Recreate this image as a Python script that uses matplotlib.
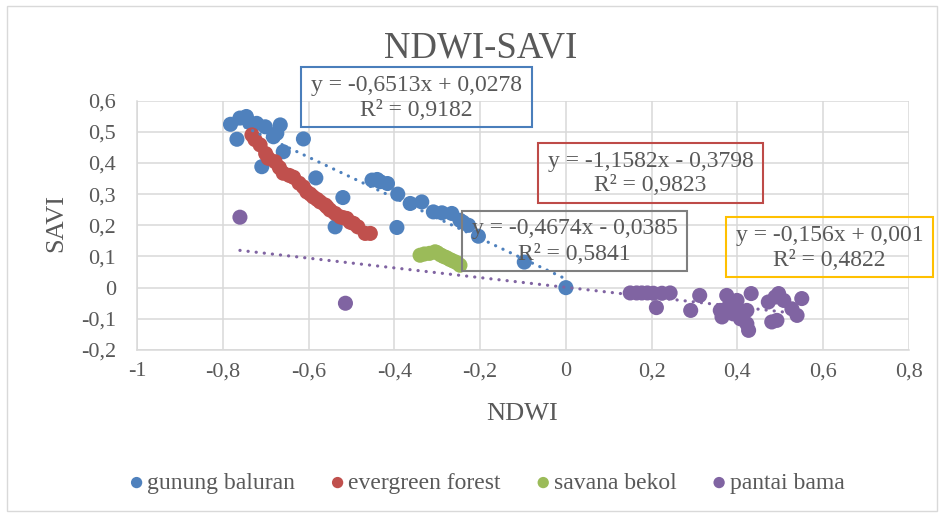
import matplotlib
matplotlib.use('Agg')
import matplotlib.pyplot as plt
import numpy as np
from matplotlib.patches import Rectangle
from matplotlib.ticker import FuncFormatter

# ── Data ────────────────────────────────────────────────────────
baluran_x = [-0.782, -0.760, -0.745, -0.738, -0.721, -0.701, -0.767, -0.682,
             -0.674, -0.666, -0.659, -0.709, -0.612, -0.583, -0.520, -0.538,
             -0.452, -0.440, -0.433, -0.416, -0.392, -0.394, -0.363, -0.336,
             -0.309, -0.289, -0.266, -0.247, -0.240, -0.227, -0.204, -0.097,
             0.0]
baluran_y = [0.524, 0.544, 0.549, 0.530, 0.527, 0.516, 0.476, 0.484,
             0.495, 0.522, 0.436, 0.388, 0.477, 0.352, 0.289, 0.195,
             0.345, 0.347, 0.340, 0.334, 0.300, 0.193, 0.270, 0.275,
             0.243, 0.240, 0.238, 0.216, 0.210, 0.200, 0.165, 0.082,
             0.0]

evergreen_x = [-0.732, -0.725, -0.713, -0.700, -0.694, -0.678, -0.668, -0.659,
               -0.645, -0.635, -0.622, -0.612, -0.604, -0.596, -0.589, -0.580,
               -0.573, -0.561, -0.557, -0.550, -0.538, -0.526, -0.518, -0.511,
               -0.503, -0.495, -0.485, -0.468, -0.456]
evergreen_y = [0.490, 0.475, 0.458, 0.430, 0.415, 0.404, 0.385, 0.367,
               0.360, 0.354, 0.335, 0.323, 0.307, 0.300, 0.291, 0.283,
               0.275, 0.265, 0.259, 0.249, 0.238, 0.227, 0.224, 0.222,
               0.210, 0.206, 0.195, 0.174, 0.174]

bekol_x = [-0.340, -0.330, -0.318, -0.305, -0.300, -0.292, -0.285, -0.278,
           -0.270, -0.262, -0.254, -0.247]
bekol_y = [0.104, 0.108, 0.110, 0.115, 0.112, 0.105, 0.100, 0.096,
           0.090, 0.085, 0.080, 0.072]

bama_x = [-0.760, -0.514, 0.150, 0.165, 0.177, 0.190, 0.204, 0.224, 0.243,
          0.211, 0.312, 0.291, 0.375, 0.399, 0.360, 0.364, 0.390, 0.407,
          0.422, 0.426, 0.432, 0.422, 0.472, 0.496, 0.508, 0.480, 0.492,
          0.539, 0.550, 0.527, 0.380, 0.395, 0.410, 0.488]
bama_y = [0.226, -0.050, -0.017, -0.017, -0.017, -0.017, -0.018, -0.018, -0.017,
          -0.064, -0.025, -0.073, -0.025, -0.041, -0.073, -0.094, -0.084, -0.100,
          -0.116, -0.137, -0.019, -0.073, -0.046, -0.019, -0.041, -0.110, -0.105,
          -0.089, -0.035, -0.068, -0.060, -0.070, -0.085, -0.030]

series_names = ['gunung baluran', 'evergreen forest', 'savana bekol', 'pantai bama']
slopes = [-0.6513, -1.1582, -0.4674, -0.156]
intercepts = [0.0278, -0.3798, -0.0385, 0.001]
eq_lines = ['y = -0,6513x + 0,0278', 'y = -1,1582x - 0,3798',
            'y = -0,4674x - 0,0385', 'y = -0,156x + 0,001']
r2_lines = ['R² = 0,9182', 'R² = 0,9823', 'R² = 0,5841', 'R² = 0,4822']

x_ticks = [-1, -0.8, -0.6, -0.4, -0.2, 0, 0.2, 0.4, 0.6, 0.8]
y_ticks = [-0.2, -0.1, 0, 0.1, 0.2, 0.3, 0.4, 0.5, 0.6]

# ── Style ────────────────────────────────────────────────────────
plt.rcParams['font.family'] = ['Liberation Serif', 'DejaVu Serif']
colors = ['#4F81BD', '#C0504D', '#9BBB59', '#8064A2']
box_colors = ['#4A7EBB', '#BE4B48', '#7F7F7F', '#FFC000']
txt = '#595959'
grid_c = '#D9D9D9'

W, H = 941, 515
fig = plt.figure(figsize=(W / 100, H / 100), dpi=100, facecolor='white')


def fx(px):
    return px / W


def fy(py):
    return 1 - py / H


# outer chart border
fig.add_artist(Rectangle((fx(7), fy(511)), fx(937) - fx(7), fy(6) - fy(511),
                         transform=fig.transFigure, fill=False,
                         edgecolor=grid_c, lw=1.0))

ax = fig.add_axes([fx(137), fy(350), fx(909) - fx(137), fy(100.6) - fy(350)])
ax.set_xlim(-1, 0.8)
ax.set_ylim(-0.2, 0.6)
ax.set_xticks(x_ticks)
ax.set_yticks(y_ticks)
fmt = FuncFormatter(lambda v, p: ('%g' % round(v, 2)).replace('.', ',') if abs(v) > 1e-9 else '0')
ax.xaxis.set_major_formatter(fmt)
ax.yaxis.set_major_formatter(fmt)
ax.tick_params(length=0, labelsize=16, colors=txt)
ax.tick_params(axis='x', pad=9)
ax.tick_params(axis='y', pad=15)
ax.grid(True, color=grid_c, lw=1.1)
ax.set_axisbelow(True)
for s in ['top', 'right']:
    ax.spines[s].set_visible(False)
for s in ['left', 'bottom']:
    ax.spines[s].set_color(grid_c)
    ax.spines[s].set_linewidth(1.1)

all_x = [baluran_x, evergreen_x, bekol_x, bama_x]
all_y = [baluran_y, evergreen_y, bekol_y, bama_y]
handles = []
for xs, ys, c, name in zip(all_x, all_y, colors, series_names):
    h = ax.scatter(xs, ys, s=118, color=c, edgecolors='none', label=name, zorder=3)
    handles.append(h)

# trendlines from the printed equations, over each series' x range
for xs, m, b, c in zip(all_x, slopes, intercepts, colors):
    xx = np.array([min(xs), max(xs)])
    ax.plot(xx, m * xx + b, color=c, lw=2.3, linestyle=(0, (0.05, 2.5)),
            dash_capstyle='round', zorder=4)

# equation boxes (pixel extents), two text lines each
boxes = [(301, 67, 532, 127), (538, 143, 763, 203),
         (462, 211, 687, 271), (726, 217, 933, 277)]
for (x0, y0, x1, y1), ec, l1, l2 in zip(boxes, box_colors, eq_lines, r2_lines):
    fig.add_artist(Rectangle((fx(x0), fy(y1)), fx(x1) - fx(x0), fy(y0) - fy(y1),
                             transform=fig.transFigure, fill=False,
                             edgecolor=ec, lw=1.5, zorder=5))
    xc = fx((x0 + x1) / 2)
    fig.text(xc, fy(y0 + 18), l1, ha='center', va='center',
             fontsize=17, color=txt, zorder=6)
    fig.text(xc, fy(y0 + 43), l2, ha='center', va='center',
             fontsize=17, color=txt, zorder=6)

fig.text(fx(481), fy(48), 'NDWI-SAVI', ha='center', va='center',
         fontsize=26.5, color=txt)
fig.text(fx(522), fy(414), 'NDWI', ha='center', va='center',
         fontsize=19, color=txt)
fig.text(fx(56), fy(223), 'SAVI', ha='center', va='center',
         fontsize=19, color=txt, rotation=90)

fig.legend(handles=handles, loc='center', bbox_to_anchor=(fx(487), fy(483)),
           ncol=4, frameon=False, fontsize=17, markerscale=0.75,
           handlelength=0.6, handletextpad=0.15, columnspacing=1.5,
           labelcolor=txt)

fig.savefig('out.png', dpi=100, facecolor='white')
plt.close()
